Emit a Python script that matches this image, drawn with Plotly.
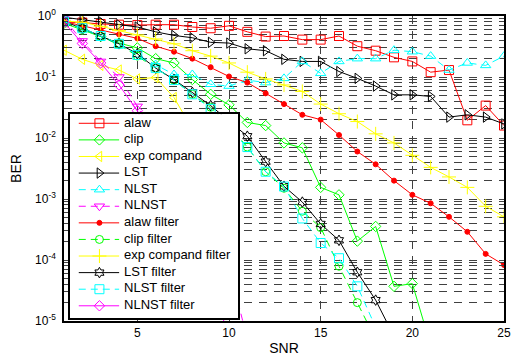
import plotly.graph_objects as go

# ---------------- data (BER vs SNR) ----------------
snr = list(range(1, 26))

alaw = [0.79, 0.78, 0.74, 0.72, 0.71, 0.72, 0.72, 0.66, 0.63, 0.69, 0.55, 0.46, 0.47,
        0.41, 0.41, 0.47, 0.32, 0.27, 0.21, 0.18, 0.12, 0.13, 0.0195, 0.034, 0.016]
clip = [0.76, 0.60, 0.46, 0.36, 0.30, 0.20, 0.17, 0.091, 0.052, 0.035, 0.018, 0.016,
        0.0083, 0.0069, 0.00155, 0.00117, 0.000204, 0.000355, 3.7e-5, 4.1e-5, 4e-6]
exp_compand = [0.275, 0.195, 0.155, 0.13, 0.093, 0.098, 0.046, 0.014, 0.0032, 0.0005]
lst = [0.955, 0.87, 0.81, 0.72, 0.66, 0.55, 0.48, 0.44, 0.37, 0.36, 0.29, 0.27, 0.195,
       0.18, 0.18, 0.123, 0.095, 0.071, 0.051, 0.051, 0.048, 0.022, 0.024, 0.022, 0.017]
nlst = [0.79, 0.62, 0.46, 0.34, 0.23, 0.16, 0.11, 0.11, 0.076, 0.071, 0.089, 0.081, 0.095,
        0.18, 0.115, 0.18, 0.20, 0.20, 0.275, 0.26, 0.22, 0.13, 0.17, 0.155, 0.22]
nlnst = [0.89, 0.39, 0.18, 0.10, 0.033, 0.01, 0.0032, 0.001, 0.00032, 7.9e-5, 5e-6]
alaw_filter = [0.81, 0.69, 0.59, 0.50, 0.43, 0.32, 0.26, 0.20, 0.145, 0.102, 0.081, 0.054,
               0.036, 0.024, 0.020, 0.0112, 0.0060, 0.0037, 0.0020, 0.00117, 0.00085,
               0.00051, 0.00029, 0.000126, 8.3e-5]
clip_filter = [0.79, 0.63, 0.46, 0.34, 0.22, 0.14, 0.089, 0.052, 0.032, 0.016, 0.0071,
               0.0028, 0.0015, 0.00063, 0.00034, 7.9e-5, 2e-5, 5e-6]
exp_compand_filter = [0.83, 0.79, 0.68, 0.575, 0.49, 0.42, 0.35, 0.27, 0.22, 0.17, 0.12,
                      0.093, 0.074, 0.058, 0.036, 0.025, 0.0186, 0.0117, 0.0083, 0.0052,
                      0.0033, 0.0023, 0.00155, 0.00076, 0.00051]
lst_filter = [0.81, 0.63, 0.47, 0.35, 0.24, 0.14, 0.091, 0.056, 0.034, 0.019, 0.0107,
              0.0041, 0.00162, 0.00089, 0.00039, 0.00021, 6.3e-5, 2.2e-5, 5.6e-6]
nlst_filter = [0.81, 0.63, 0.47, 0.35, 0.23, 0.14, 0.089, 0.052, 0.030, 0.014, 0.0071,
               0.0028, 0.0016, 0.00048, 0.00019, 0.000107, 3.7e-5, 7.9e-6]
nlnst_filter = [0.79, 0.355, 0.17, 0.074, 0.028, 0.0071, 0.0018, 0.00045, 1e-4, 4e-6]

series_names = ["alaw", "clip", "exp compand", "LST", "NLST", "NLNST",
                "alaw filter", "clip filter", "exp compand filter", "LST filter",
                "NLST filter", "NLNST filter"]
series_values = [alaw, clip, exp_compand, lst, nlst, nlnst, alaw_filter, clip_filter,
                 exp_compand_filter, lst_filter, nlst_filter, nlnst_filter]

x_tick_vals = [5, 10, 15, 20, 25]
y_decades = [-5, -4, -3, -2, -1, 0]

# ---------------- styles ----------------
RED, GREEN, YEL, BLK, CYAN, MAG = "#ff0000", "#00ff00", "#ffff00", "#000000", "#00ffff", "#ff00ff"
styles = [
    dict(color=RED, symbol="square-open", size=9, dash="solid"),
    dict(color=GREEN, symbol="diamond-open", size=8, dash="solid"),
    dict(color=YEL, symbol="triangle-left-open", size=9, dash="solid"),
    dict(color=BLK, symbol="triangle-right-open", size=9, dash="solid"),
    dict(color=CYAN, symbol="triangle-up-open", size=9, dash="7px,5px"),
    dict(color=MAG, symbol="triangle-down-open", size=9, dash="7px,5px"),
    dict(color=RED, symbol="circle", size=5, dash="solid"),
    dict(color=GREEN, symbol="circle-open", size=8, dash="7px,5px"),
    dict(color=YEL, symbol="cross-thin-open", size=10, dash="solid"),
    dict(color=BLK, symbol="hexagram-open", size=8, dash="solid"),
    dict(color=CYAN, symbol="square-open", size=9, dash="7px,5px"),
    dict(color=MAG, symbol="diamond-open", size=8, dash="solid"),
]

FONT = "Arial, 'Liberation Sans', Helvetica, sans-serif"
W, H = 515, 358
ML, MR, MT, MB = 64, 4, 16, 35
PW, PH = W - ML - MR, H - MT - MB

fig = go.Figure()

for vals, st in zip(series_values, styles):
    fig.add_trace(go.Scatter(
        x=snr[:len(vals)], y=vals, mode="lines+markers",
        line=dict(color=st["color"], width=1, dash=st["dash"]),
        marker=dict(symbol=st["symbol"], size=st["size"], color=st["color"],
                    line=dict(color=st["color"], width=1)),
        showlegend=False, xaxis="x", yaxis="y"))

# ---------------- MATLAB-like legend box (inset axes) ----------------
LG_L, LG_R, LG_T, LG_B = 70, 241, 115, 320     # pixel box of the legend
row0, row_h = 124, 16.7                          # pixel centre of first row, row pitch
lg_w = LG_R - LG_L
y2_top = 1 - (row0 - LG_T) / row_h
y2_bot = 1 + (LG_B - row0) / row_h
line_x0, line_x1, mark_x, text_x = 9, 50, 30, 55
rows = list(range(1, len(series_names) + 1))

fig.add_trace(go.Scatter(x=[0, lg_w, lg_w, 0, 0], y=[y2_bot, y2_bot, y2_top, y2_top, y2_bot],
                         fill="toself", fillcolor="white", mode="none", showlegend=False,
                         hoverinfo="skip", xaxis="x2", yaxis="y2"))
for i, st in zip(rows, styles):
    fig.add_trace(go.Scatter(x=[line_x0, line_x1], y=[i, i], mode="lines",
                             line=dict(color=st["color"], width=1, dash=st["dash"]),
                             showlegend=False, hoverinfo="skip", xaxis="x2", yaxis="y2"))
    fig.add_trace(go.Scatter(x=[mark_x], y=[i], mode="markers",
                             marker=dict(symbol=st["symbol"], size=st["size"], color=st["color"],
                                         line=dict(color=st["color"], width=1)),
                             showlegend=False, hoverinfo="skip", xaxis="x2", yaxis="y2"))
fig.add_trace(go.Scatter(x=[text_x] * len(rows), y=rows, mode="text", text=series_names,
                         textposition="middle right", cliponaxis=False,
                         textfont=dict(family=FONT, size=13, color="#000"),
                         showlegend=False, hoverinfo="skip", xaxis="x2", yaxis="y2"))

# ---------------- axes ----------------
y_tickvals, y_ticktext = [], []
for d in y_decades:
    for m in range(1, 10):
        if d == 0 and m > 1:
            break
        y_tickvals.append(m * 10.0 ** d)
        y_ticktext.append(f"10<sup>{d}</sup>" if m == 1 else " ")

grid = dict(gridcolor="#404040", gridwidth=1, griddash="8px,7px")

fig.update_layout(
    width=W, height=H, margin=dict(l=ML, r=MR, t=MT, b=MB),
    paper_bgcolor="white", plot_bgcolor="white",
    font=dict(family=FONT, size=12, color="#000"),
    xaxis=dict(range=[1, 25], tickvals=x_tick_vals, ticks="inside", ticklen=5,
               showline=True, linecolor="#000", linewidth=1.5, mirror="ticks",
               showgrid=True, zeroline=False, title=dict(text="SNR", standoff=4),
               tickfont=dict(size=12), ticklabeloverflow="allow", **grid),
    yaxis=dict(type="log", range=[-5, 0], tickvals=y_tickvals, ticktext=y_ticktext,
               ticks="inside", ticklen=4, showline=True, linecolor="#000", linewidth=1.5,
               mirror="ticks", showgrid=True, zeroline=False, ticklabelstandoff=4,
               title=dict(text="BER", standoff=10), tickfont=dict(size=12), **grid),
    xaxis2=dict(domain=[(LG_L - ML) / PW, (LG_R - ML) / PW], range=[0, lg_w],
                anchor="y2", showgrid=False, zeroline=False, showticklabels=False,
                ticks="", showline=True, mirror=True, linecolor="#000", linewidth=1.5),
    yaxis2=dict(domain=[(MT + PH - LG_B) / PH, (MT + PH - LG_T) / PH],
                range=[y2_bot, y2_top], anchor="x2", showgrid=False, zeroline=False,
                showticklabels=False, ticks="", showline=True, mirror=True,
                linecolor="#000", linewidth=1.5),
)

fig.write_html("out.html")
